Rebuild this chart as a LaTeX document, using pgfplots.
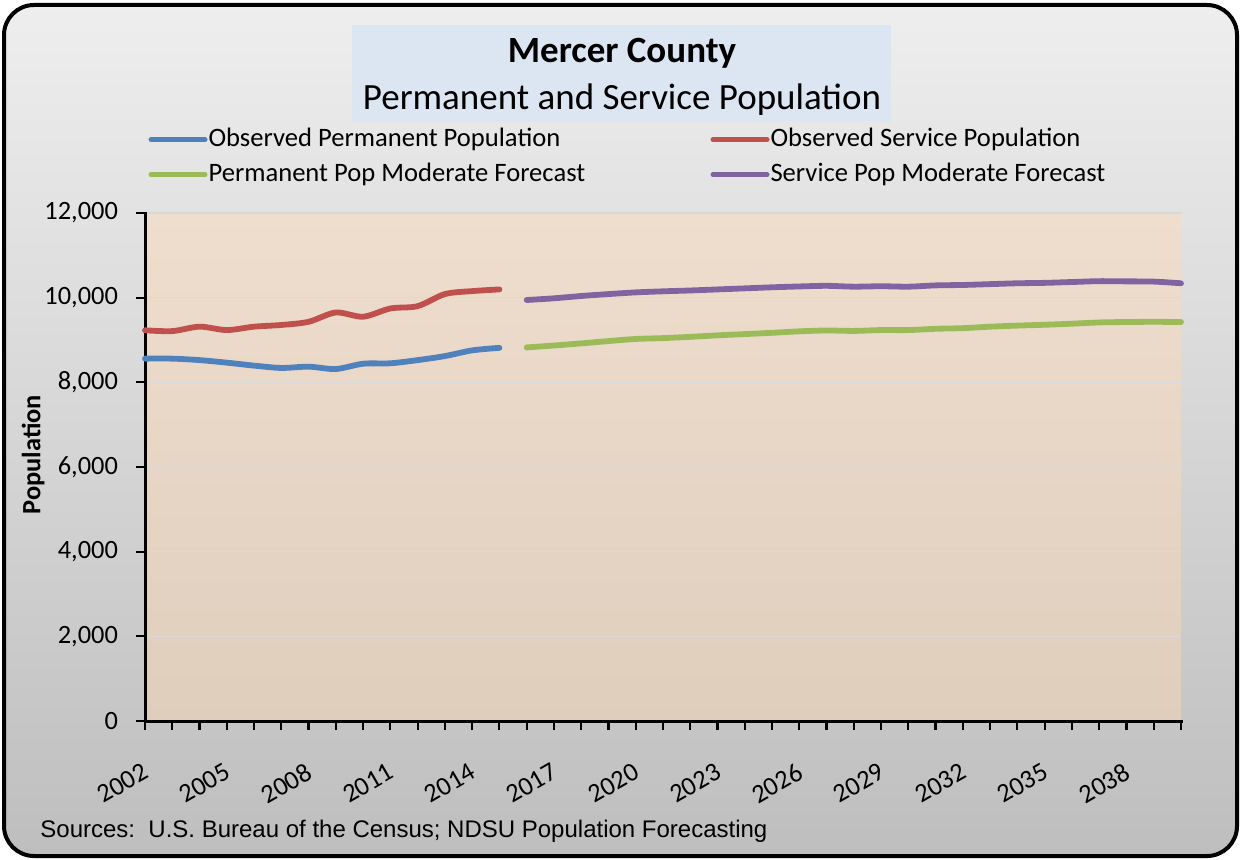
\documentclass[border=0pt]{standalone}
\usepackage{fontspec}
\setmainfont{Carlito}
\newfontfamily\arialfont{Liberation Sans}
\usepackage{pgfplots}
\pgfplotsset{compat=1.18}
\definecolor{cBlue}{RGB}{79,129,189}
\definecolor{cRed}{RGB}{192,80,77}
\definecolor{cGreen}{RGB}{155,187,89}
\definecolor{cPurple}{RGB}{128,100,162}
\definecolor{bgTop}{RGB}{238,238,238}
\definecolor{bgBot}{RGB}{190,190,190}
\definecolor{plotTop}{RGB}{239,221,205}
\definecolor{plotBot}{RGB}{224,206,189}
\definecolor{titleBox}{RGB}{220,230,242}
\definecolor{gridc}{RGB}{217,217,217}

\pgfplotstableread{
year pop
2002 8560
2003 8560
2004 8525
2005 8465
2006 8395
2007 8340
2008 8370
2009 8315
2010 8440
2011 8450
2012 8525
2013 8620
2014 8755
2015 8815
}\obsperm

\pgfplotstableread{
year pop
2002 9230
2003 9210
2004 9315
2005 9235
2006 9315
2007 9355
2008 9430
2009 9650
2010 9550
2011 9745
2012 9800
2013 10085
2014 10155
2015 10195
}\obsserv

\pgfplotstableread{
year pop
2016 8825
2017 8870
2018 8920
2019 8975
2020 9025
2021 9045
2022 9075
2023 9110
2024 9140
2025 9170
2026 9205
2027 9225
2028 9215
2029 9235
2030 9235
2031 9265
2032 9280
2033 9315
2034 9340
2035 9360
2036 9385
2037 9415
2038 9425
2039 9430
2040 9425
}\fcperm

\pgfplotstableread{
year pop
2016 9945
2017 9985
2018 10040
2019 10085
2020 10125
2021 10150
2022 10170
2023 10195
2024 10220
2025 10245
2026 10265
2027 10280
2028 10260
2029 10270
2030 10260
2031 10290
2032 10300
2033 10320
2034 10340
2035 10350
2036 10370
2037 10390
2038 10385
2039 10380
2040 10340
}\fcserv

\begin{document}
\begin{tikzpicture}[x=1pt,y=1pt]
\path[use as bounding box] (0,0) rectangle (620,429.5);
\shadedraw[top color=bgTop, bottom color=bgBot, rounded corners=15pt, draw=black, line width=2pt] (2,1.5) rectangle (618.5,427);
\fill[titleBox] (176,368.5) rectangle (445.5,417);
\node[font=\fontsize{18.5}{22}\selectfont\bfseries] at (311,403) {Mercer County};
\node[font=\fontsize{18.5}{22}\selectfont] at (311,379.5) {Permanent and Service Population};
\node[anchor=west, inner sep=0pt, font=\arialfont\fontsize{12}{14}\selectfont] at (20,14) {Sources:\ \ U.S. Bureau of the Census; NDSU Population Forecasting};

\begin{axis}[
  at={(72.5pt,69pt)}, anchor=south west,
  scale only axis, width=518pt, height=254pt,
  xmin=2002, xmax=2040, ymin=0, ymax=12000,
  axis lines*=left,
  axis line style={line width=1.5pt, black, line cap=rect},
  tick align=outside,
  major tick length=4.5pt,
  minor tick length=4.5pt,
  tick style={line width=1.1pt, black},
  xtick={2002,2005,...,2038},
  minor xtick={2003,2004,...,2040},
  ytick={0,2000,...,12000},
  scaled y ticks=false,
  ymajorgrids,
  grid style={line width=0.6pt, color=gridc},
  axis background/.style={top color=plotTop, bottom color=plotBot},
  tick label style={font=\fontsize{13.2}{15}\selectfont},
  /pgf/number format/assume math mode=true,
  yticklabel style={xshift=-5.5pt, /pgf/number format/1000 sep={,}},
  xticklabel style={rotate=30, anchor=north east, yshift=-9.5pt, xshift=-6pt, /pgf/number format/1000 sep={}},
  ylabel={Population},
  ylabel style={font=\bfseries\fontsize{13.2}{15}\selectfont, at={(axis description cs:-0.108,0.524)}, anchor=center},
  clip=false,
  legend columns=2,
  legend cell align=left,
  legend style={draw=none, fill=none, inner sep=0pt, at={(axis description cs:0.003,1)}, anchor=south west, yshift=10.25pt,
    font=\fontsize{13.3}{16}\selectfont,
    nodes={inner xsep=0.5pt, inner ysep=2pt, text height=10pt, text depth=3.5pt}, row sep=0pt},
  legend image code/.code={\draw[#1, line width=2.5pt, line cap=round] (0pt,0pt) -- (27pt,0pt);},
  every axis plot/.append style={line width=2.9pt, line cap=round, line join=round, smooth, tension=0.5},
]
\addplot[cBlue] table[x=year,y=pop] {\obsperm};
\addlegendentry{\makebox[250.5pt][l]{Observed Permanent Population}}
\addplot[cRed] table[x=year,y=pop] {\obsserv};
\addlegendentry{Observed Service Population}
\addplot[cGreen] table[x=year,y=pop] {\fcperm};
\addlegendentry{Permanent Pop Moderate Forecast}
\addplot[cPurple] table[x=year,y=pop] {\fcserv};
\addlegendentry{Service Pop Moderate Forecast}
\end{axis}
\end{tikzpicture}
\end{document}
